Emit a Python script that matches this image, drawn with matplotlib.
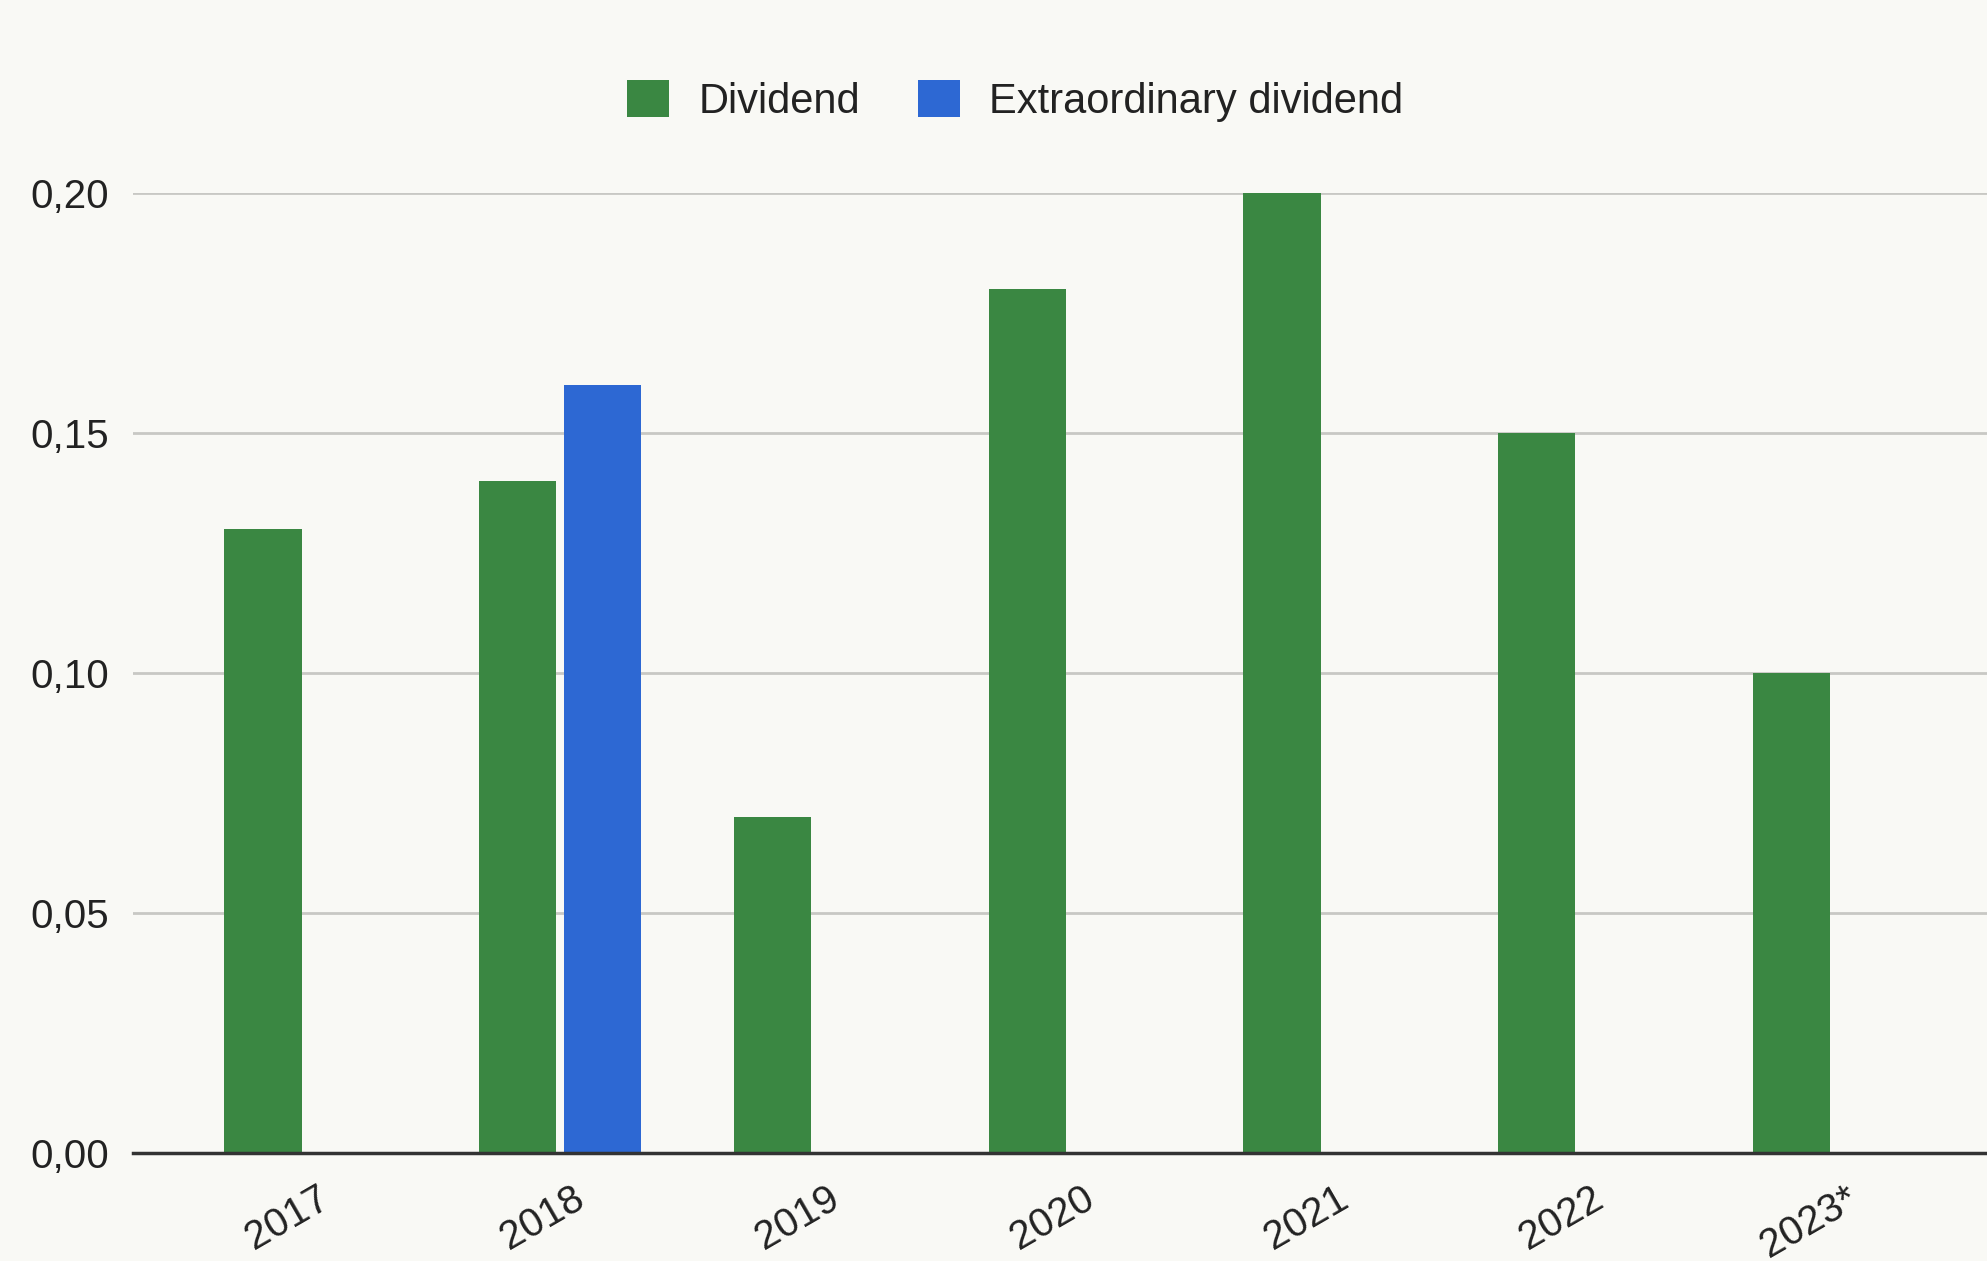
import numpy as np
import matplotlib.pyplot as plt
from matplotlib.patches import Patch

years = ["2017", "2018", "2019", "2020", "2021", "2022", "2023*"]
dividend = [0.13, 0.14, 0.07, 0.18, 0.20, 0.15, 0.10]
extra = [0, 0.16, 0, 0, 0, 0, 0]

green = "#3a8742"
blue = "#2d68d3"
bg = "#f9f9f5"

plt.rcParams['font.family'] = ['Liberation Sans', 'DejaVu Sans']
plt.rcParams['font.size'] = 29

fig = plt.figure(figsize=(19.87, 12.61), dpi=100, facecolor=bg)
ax = fig.add_axes([133 / 1987, 1 - 1153 / 1261, 1 - 133 / 1987, (1153 - 192.6) / 1261])
ax.set_facecolor(bg)

x = np.arange(len(years))
w = 0.303
ax.bar(x - 0.167, dividend, w, color=green, zorder=3, clip_on=False)
ex = [v if v > 0 else np.nan for v in extra]
ax.bar(x + 0.165, ex, w, color=blue, zorder=3, clip_on=False)

ax.set_xlim(-0.677, 6.60)
ax.set_ylim(0, 0.20)
ax.set_yticks([0, 0.05, 0.10, 0.15, 0.20])
ax.set_yticklabels(["0,00", "0,05", "0,10", "0,15", "0,20"])
ax.yaxis.grid(True, color="#c8c8c4", linewidth=2, zorder=0)
ax.set_axisbelow(True)

ax.set_xticks(x + 0.045)
ax.set_xticklabels(years, rotation=30, ha='right', rotation_mode='anchor')
ax.tick_params(axis='x', length=0, pad=19, colors="#222222")
ax.tick_params(axis='y', length=0, pad=17, colors="#222222")

for s in ['top', 'right', 'left']:
    ax.spines[s].set_visible(False)
ax.spines['bottom'].set_color("#333333")
ax.spines['bottom'].set_linewidth(2.5)
ax.spines['bottom'].set_zorder(4)

handles = [Patch(facecolor=green, label="Dividend"),
           Patch(facecolor=blue, label="Extraordinary dividend")]
fig.legend(handles=handles, loc='center', bbox_to_anchor=(0.511, 1 - 101 / 1261),
           ncol=2, frameon=False, handlelength=1.0, handleheight=1.0,
           handletextpad=0.7, columnspacing=1.4, labelcolor="#222222",
           fontsize=30)

fig.savefig("out.png", dpi=100, facecolor=bg)
